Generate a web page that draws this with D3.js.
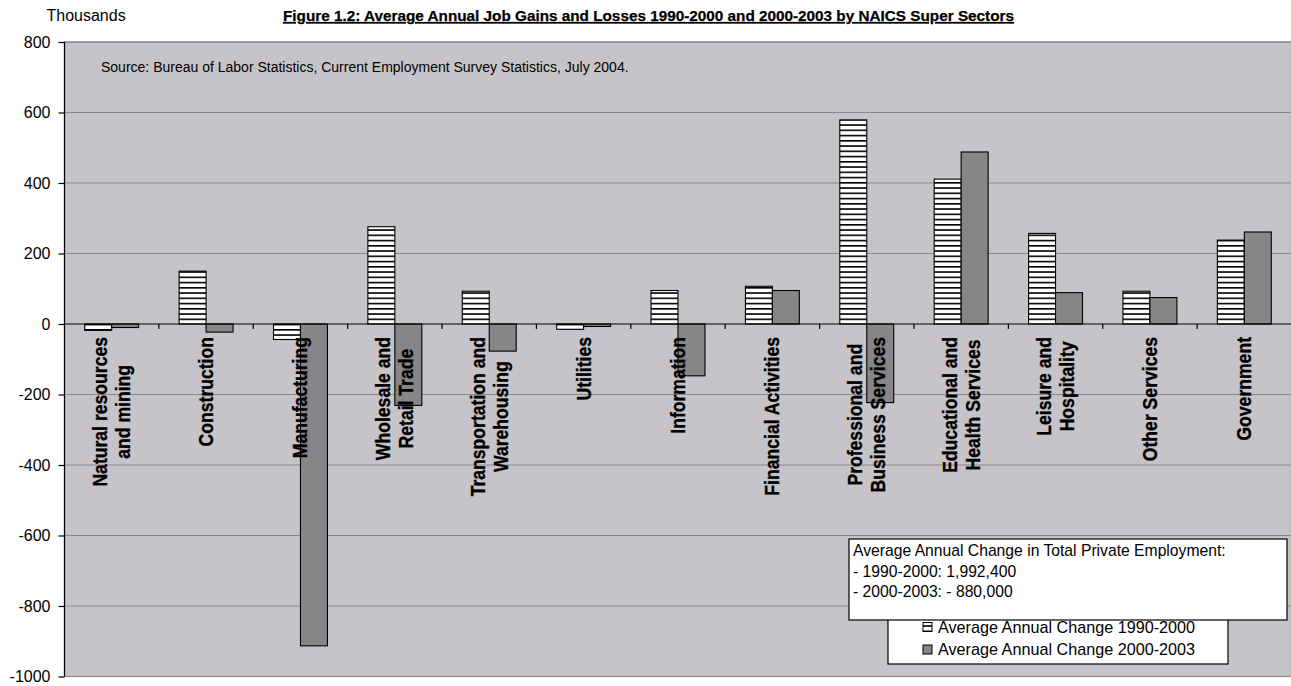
<!DOCTYPE html>
<html>
<head>
<meta charset="utf-8">
<script src="https://cdn.jsdelivr.net/npm/d3@7"></script>
<style>
  html, body { margin: 0; padding: 0; background: #ffffff; }
  svg { display: block; }
  .sans { font-family: "Liberation Sans", Arial, sans-serif; }
</style>
</head>
<body>
<svg id="chart" width="1291" height="686"></svg>
<script>
// Super sectors (line breaks mark the two-line labels)
const categories = [
  "Natural resources\nand mining",
  "Construction",
  "Manufacturing",
  "Wholesale and\nRetail Trade",
  "Transportation and\nWarehousing",
  "Utilities",
  "Information",
  "Financial Activities",
  "Professional and\nBusiness Services",
  "Educational and\nHealth Services",
  "Leisure and\nHospitality",
  "Other Services",
  "Government"
];

// Average annual change, thousands of jobs
const change1990to2000 = [-18, 150, -44, 276, 93, -15, 95, 107, 579, 411, 257, 93, 238];
const change2000to2003 = [-10, -23, -913, -231, -77, -7, -147, 95, -223, 488, 89, 75, 261];

const seriesNames = ["Average Annual Change 1990-2000", "Average Annual Change 2000-2003"];
const yTicks = [800, 600, 400, 200, 0, -200, -400, -600, -800, -1000];

const titleText = "Figure 1.2: Average Annual Job Gains and Losses 1990-2000 and 2000-2003 by NAICS Super Sectors";
const unitText = "Thousands";
const sourceText = "Source: Bureau of Labor Statistics, Current Employment Survey Statistics, July 2004.";
const noteLines = [
  "Average Annual Change in Total Private Employment:",
  "- 1990-2000: 1,992,400",
  "- 2000-2003: - 880,000"
];

const svg = d3.select("#chart");
const W = 1291, H = 686;
const plot = { left: 64.5, right: 1291.5, top: 42, bottom: 676.5 };

const colors = { plotBg: "#c6c4c8", grid: "#8a888a", bar2: "#878587" };
// horizontal squeeze that gives the condensed look of the sector labels
const narrow = 0.88;

svg.append("rect").attr("width", W).attr("height", H).attr("fill", "#ffffff");

// Hatch pattern for the 1990-2000 series: white with horizontal black lines
const defs = svg.append("defs");
const hatch = defs.append("pattern")
  .attr("id", "hatchH")
  .attr("patternUnits", "userSpaceOnUse")
  .attr("width", 10).attr("height", 5.25);
hatch.append("rect").attr("width", 10).attr("height", 5.25).attr("fill", "#ffffff");
hatch.append("rect").attr("y", 3.5).attr("width", 10).attr("height", 1.6).attr("fill", "#000000");

const fills = ["url(#hatchH)", colors.bar2];

// Scales
const y = d3.scaleLinear().domain([-1000, 800]).range([plot.bottom, plot.top]);
const x = d3.scaleBand().domain(d3.range(categories.length)).range([plot.left, plot.right]).paddingInner(0).paddingOuter(0);
const xs = d3.scaleBand().domain([0, 1]).range([0, x.bandwidth()]).paddingInner(0).paddingOuter(0.75);

// Plot area
svg.append("rect")
  .attr("x", plot.left).attr("y", plot.top)
  .attr("width", plot.right - plot.left).attr("height", plot.bottom - plot.top)
  .attr("fill", colors.plotBg)
  .attr("stroke", colors.grid).attr("stroke-width", 1.2);

// Horizontal gridlines
svg.append("g").selectAll("line")
  .data(yTicks.filter(t => t !== 0))
  .join("line")
  .attr("x1", plot.left).attr("x2", plot.right)
  .attr("y1", d => y(d)).attr("y2", d => y(d))
  .attr("stroke", colors.grid).attr("stroke-width", 1.2);

// Bars
const rows = categories.map((c, i) => ({ i, values: [change1990to2000[i], change2000to2003[i]] }));
const groups = svg.append("g").selectAll("g")
  .data(rows).join("g")
  .attr("transform", d => `translate(${x(d.i)},0)`);

groups.selectAll("rect")
  .data(d => d.values.map((v, s) => ({ v, s })))
  .join("rect")
  .attr("x", d => xs(d.s))
  .attr("width", xs.bandwidth())
  .attr("y", d => y(Math.max(0, d.v)))
  .attr("height", d => Math.abs(y(d.v) - y(0)))
  .attr("fill", d => fills[d.s])
  .attr("stroke", "#000000").attr("stroke-width", 1.1);

// Zero axis with category tick marks
const xAxis = d3.axisBottom(x).tickValues(d3.range(1, categories.length)).tickSize(5).tickFormat("");
const xAxisG = svg.append("g").attr("transform", `translate(0,${y(0)})`).call(xAxis);
xAxisG.selectAll(".tick").attr("transform", d => `translate(${x(d)},0)`);
xAxisG.select(".domain").attr("d", `M${plot.left},0H${plot.right}`);
xAxisG.selectAll("line, path").attr("stroke", "#000000").attr("stroke-width", 1.2);

// Y axis (plain hyphen for negatives)
const yAxis = d3.axisLeft(y).tickValues(yTicks).tickSize(6).tickPadding(8)
  .tickFormat(d => String(d));
const yAxisG = svg.append("g").attr("transform", `translate(${plot.left},0)`).call(yAxis);
yAxisG.selectAll("line, path").attr("stroke", "#000000").attr("stroke-width", 1.2);
yAxisG.select(".domain").attr("d", `M0,${plot.top}V${plot.bottom}`);
yAxisG.attr("font-family", null);
yAxisG.selectAll("text")
  .attr("class", "sans")
  .attr("font-size", 16)
  .attr("fill", "#000000");

// Category labels, rotated and condensed, lines centred within each block
const labelTop = y(0) + 13;
const labels = svg.append("g");
categories.forEach((c, i) => {
  const lines = c.split("\n");
  const g = labels.append("g")
    .attr("transform", `translate(${x(i) + x.bandwidth() / 2},${labelTop}) rotate(-90) scale(${narrow},1)`);
  const texts = g.selectAll("text").data(lines).join("text")
    .attr("class", "sans")
    .attr("font-size", 20)
    .attr("font-weight", "bold")
    .attr("fill", "#000000")
    .attr("stroke", "#000000").attr("stroke-width", 0.35)
    .attr("text-anchor", "middle")
    .attr("y", (d, k) => (k - (lines.length - 1) / 2) * 23)
    .attr("dy", "0.35em")
    .text(d => d);
  const maxW = d3.max(texts.nodes(), n => n.getComputedTextLength());
  texts.attr("x", -maxW / 2);
});

// Unit label and title
svg.append("text")
  .attr("class", "sans")
  .attr("x", 46.5).attr("y", 21)
  .attr("font-size", 16).attr("fill", "#000000")
  .text(unitText);

svg.append("text")
  .attr("class", "sans")
  .attr("x", 283).attr("y", 21)
  .attr("font-size", 15.5).attr("font-weight", "bold")
  .attr("text-decoration", "underline")
  .attr("textLength", 731).attr("lengthAdjust", "spacingAndGlyphs")
  .attr("fill", "#000000")
  .attr("stroke", "#000000").attr("stroke-width", 0.25)
  .text(titleText);

// Source note inside the plot
svg.append("text")
  .attr("class", "sans")
  .attr("x", 101).attr("y", 72)
  .attr("font-size", 14).attr("fill", "#000000")
  .text(sourceText);

// Legend
const legend = svg.append("g");
legend.append("rect")
  .attr("x", 888).attr("y", 598).attr("width", 340).attr("height", 66)
  .attr("fill", "#ffffff").attr("stroke", "#000000").attr("stroke-width", 1.2);
const legendItems = legend.selectAll("g.item")
  .data(seriesNames).join("g").attr("class", "item")
  .attr("transform", (d, k) => `translate(923,${627 + k * 22.5})`);
legendItems.append("rect")
  .attr("x", 0).attr("y", -4.5).attr("width", 9).attr("height", 9)
  .attr("fill", (d, k) => fills[k])
  .attr("stroke", "#000000").attr("stroke-width", 1);
legendItems.append("text")
  .attr("class", "sans")
  .attr("x", 15).attr("y", 0).attr("dy", "0.36em")
  .attr("font-size", 16.2).attr("fill", "#000000")
  .text(d => d);

// Total private employment note box
const note = svg.append("g");
note.append("rect")
  .attr("x", 849).attr("y", 539).attr("width", 438).attr("height", 81)
  .attr("fill", "#ffffff").attr("stroke", "#000000").attr("stroke-width", 1.2);
note.selectAll("text").data(noteLines).join("text")
  .attr("class", "sans")
  .attr("x", 853).attr("y", (d, k) => 556 + k * 20.5)
  .attr("font-size", 15.7).attr("fill", "#000000")
  .text(d => d);
</script>
</body>
</html>
